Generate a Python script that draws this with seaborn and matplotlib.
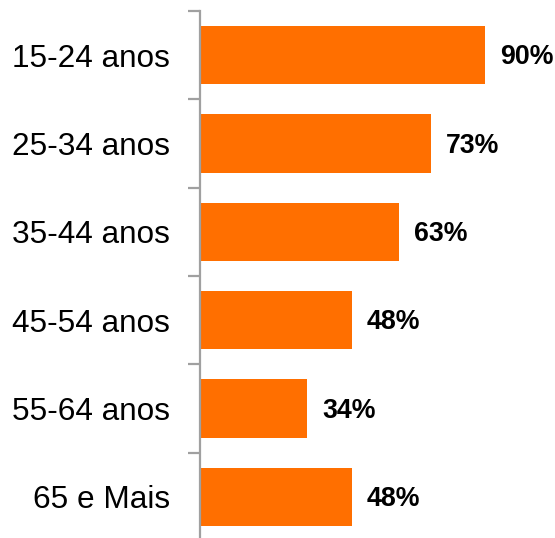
import matplotlib
matplotlib.use("Agg")
import matplotlib.pyplot as plt
import seaborn as sns
import pandas as pd

categories = ["15-24 anos", "25-34 anos", "35-44 anos", "45-54 anos", "55-64 anos", "65 e Mais"]
values = [90, 73, 63, 48, 34, 48]
value_labels = ["90%", "73%", "63%", "48%", "34%", "48%"]

sns.set_theme(style="white")
plt.rcParams['font.family'] = ['Liberation Sans', 'DejaVu Sans']

df = pd.DataFrame({"cat": categories, "val": values})

W, H = 555, 538
fig = plt.figure(figsize=(W / 100, H / 100), dpi=100)
ax_left, ax_top, ax_bot = 199.5, 11, 541
ax = fig.add_axes([ax_left / W, (H - ax_bot) / H, 317 / W, (ax_bot - ax_top) / H])

sns.barplot(data=df, x="val", y="cat", orient="h", color="#FF6F00", saturation=1,
            width=0.66, ax=ax)
for p in ax.patches:
    p.set_edgecolor("none")

ax.set_xlim(0, 100)
ax.set_ylim(len(categories) - 0.5, -0.5)
ax.set_xlabel("")
ax.set_ylabel("")
ax.set_xticks([])
for s in ["top", "right", "bottom"]:
    ax.spines[s].set_visible(False)
ax.spines["left"].set_color("#A0A0A0")
ax.spines["left"].set_linewidth(1.6)

ax.set_yticks(range(len(categories)))
ax.set_yticklabels(categories, fontsize=22.7, color="#000000")
ax.tick_params(axis="y", which="major", length=0, pad=21)
ax.set_yticks([i - 0.5 for i in range(len(categories) + 1)], minor=True)
ax.tick_params(axis="y", which="minor", length=9, width=1.6, color="#A0A0A0", left=True)
for t in ax.get_yticklabels():
    t.set_y(t.get_position()[1])

for i, (v, lab) in enumerate(zip(values, value_labels)):
    ax.annotate(lab, xy=(v, i), xytext=(11, -1.5), textcoords="offset points",
                ha="left", va="center", fontsize=19.3, fontweight="bold", color="#000000")

fig.savefig("out.png", dpi=100)
